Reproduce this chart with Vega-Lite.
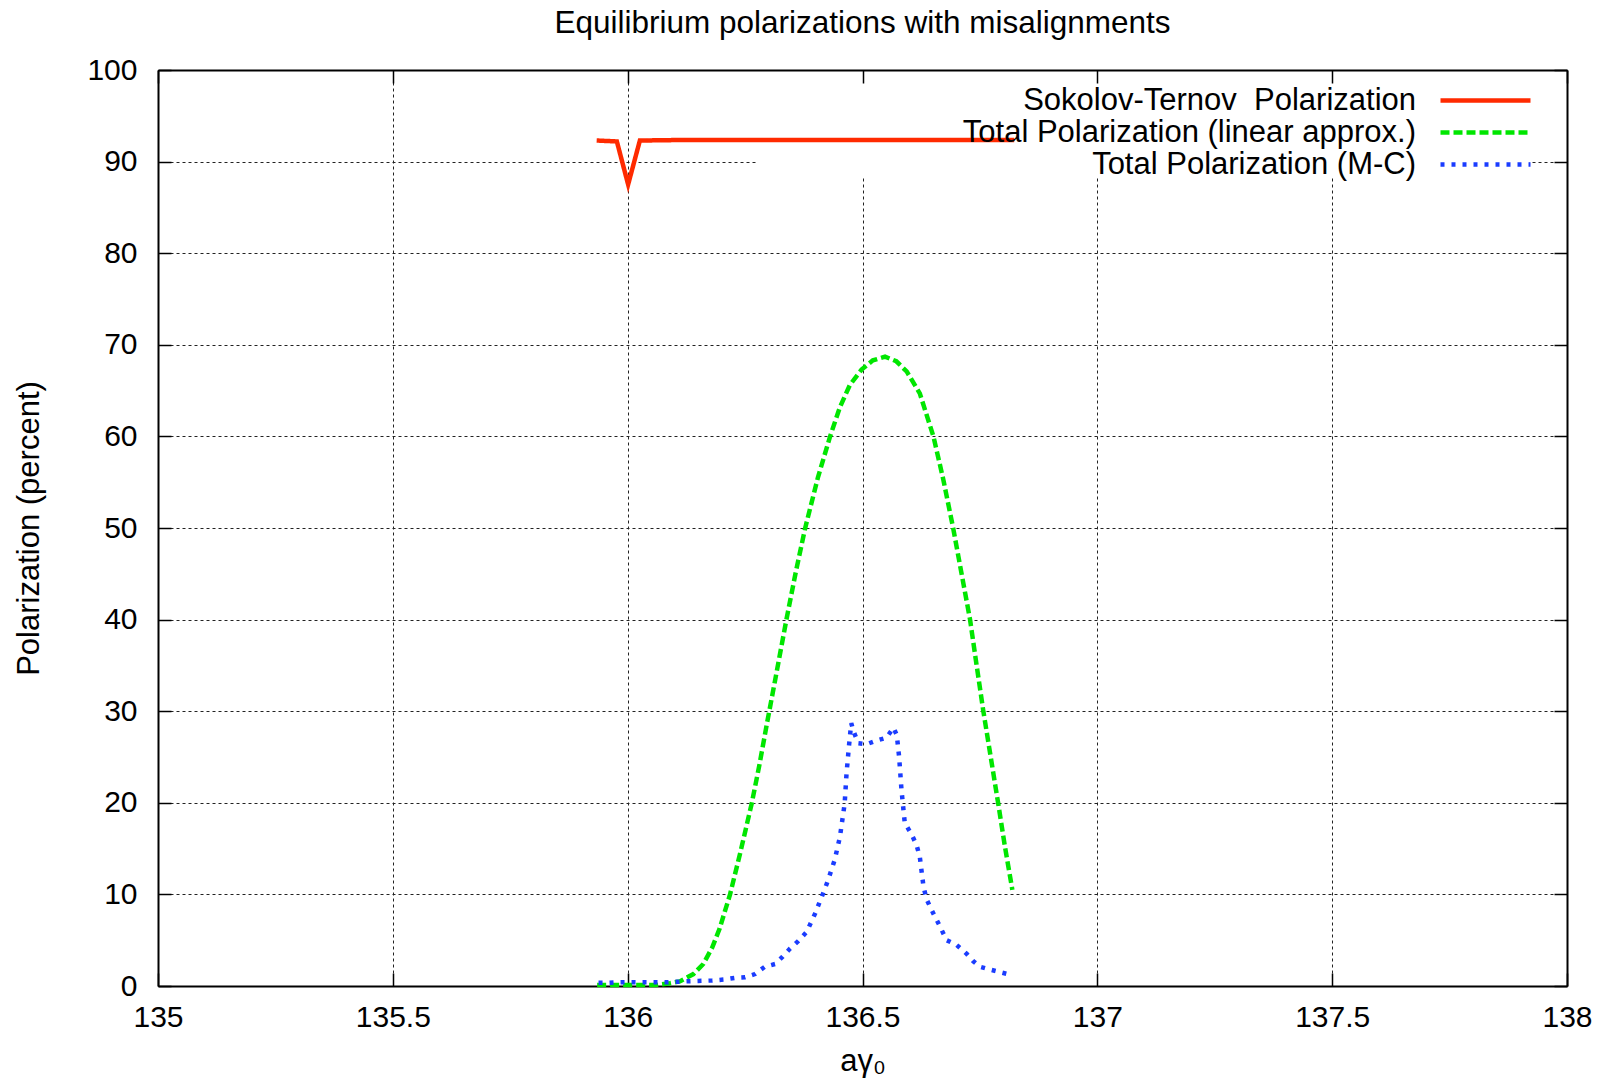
{
  "$schema": "https://vega.github.io/schema/vega-lite/v6.json",
  "width": 1409,
  "height": 916,
  "autosize": {"type": "none"},
  "padding": {"left": 158, "top": 70, "right": 48, "bottom": 99},
  "background": "white",
  "title": {"text": "Equilibrium polarizations with misalignments", "fontSize": 31.5, "font": "Liberation Sans", "fontWeight": "normal", "color": "black", "anchor": "middle", "baseline": "alphabetic", "offset": -9},
  "config": {
    "view": {"stroke": null},
    "axis": {"labelFont": "Liberation Sans", "titleFont": "Liberation Sans", "labelColor": "black", "titleColor": "black", "titleFontWeight": "normal", "labelFontSize": 30, "titleFontSize": 31, "domainColor": "black", "domainWidth": 2, "tickColor": "black", "tickWidth": 1.5, "gridColor": "#222222", "gridWidth": 1, "gridDash": [3, 3], "gridOpacity": 1}
  },
  "layer": [
    {
      "data": {"values": [{}]},
      "mark": {"type": "rect", "fill": "white"},
      "encoding": {
        "x": {"datum": 136.275, "type": "quantitative", "scale": {"domain": [135, 138], "nice": false, "zero": false},
          "axis": {"orient": "bottom", "values": [135, 135.5, 136, 136.5, 137, 137.5, 138], "labelExpr": "'' + datum.value", "grid": true, "tickSize": -13, "labelPadding": 29, "title": "aγ₀", "titlePadding": 38, "titleBaseline": "alphabetic", "labelFlush": false, "zindex": 0}},
        "x2": {"datum": 137.92},
        "y": {"datum": 88.2, "type": "quantitative", "scale": {"domain": [0, 100], "nice": false, "zero": false},
          "axis": {"orient": "left", "values": [0, 10, 20, 30, 40, 50, 60, 70, 80, 90, 100], "grid": true, "tickSize": -13, "labelPadding": 34, "title": "Polarization (percent)", "titlePadding": 41, "labelFlush": false, "zindex": 0}},
        "y2": {"datum": 100}
      }
    },
    {
      "data": {"values": [
        {"s": "Sokolov-Ternov\u00a0 Polarization", "x": 135.934, "y": 92.3},
        {"s": "Sokolov-Ternov\u00a0 Polarization", "x": 135.977, "y": 92.2},
        {"s": "Sokolov-Ternov\u00a0 Polarization", "x": 136.001, "y": 87.5},
        {"s": "Sokolov-Ternov\u00a0 Polarization", "x": 136.026, "y": 92.3},
        {"s": "Sokolov-Ternov\u00a0 Polarization", "x": 136.1, "y": 92.35},
        {"s": "Sokolov-Ternov\u00a0 Polarization", "x": 136.3, "y": 92.35},
        {"s": "Sokolov-Ternov\u00a0 Polarization", "x": 136.5, "y": 92.35},
        {"s": "Sokolov-Ternov\u00a0 Polarization", "x": 136.7, "y": 92.35},
        {"s": "Sokolov-Ternov\u00a0 Polarization", "x": 136.823, "y": 92.35},
        {"s": "Total Polarization (linear approx.)", "x": 135.935, "y": 0.1},
        {"s": "Total Polarization (linear approx.)", "x": 136.0, "y": 0.1},
        {"s": "Total Polarization (linear approx.)", "x": 136.06, "y": 0.1},
        {"s": "Total Polarization (linear approx.)", "x": 136.09, "y": 0.3},
        {"s": "Total Polarization (linear approx.)", "x": 136.111, "y": 0.5},
        {"s": "Total Polarization (linear approx.)", "x": 136.14, "y": 1.3},
        {"s": "Total Polarization (linear approx.)", "x": 136.161, "y": 2.4},
        {"s": "Total Polarization (linear approx.)", "x": 136.18, "y": 4.2},
        {"s": "Total Polarization (linear approx.)", "x": 136.196, "y": 6.3},
        {"s": "Total Polarization (linear approx.)", "x": 136.218, "y": 10.0},
        {"s": "Total Polarization (linear approx.)", "x": 136.24, "y": 14.6},
        {"s": "Total Polarization (linear approx.)", "x": 136.264, "y": 19.9},
        {"s": "Total Polarization (linear approx.)", "x": 136.28, "y": 24.0},
        {"s": "Total Polarization (linear approx.)", "x": 136.296, "y": 28.5},
        {"s": "Total Polarization (linear approx.)", "x": 136.314, "y": 33.4},
        {"s": "Total Polarization (linear approx.)", "x": 136.338, "y": 40.0},
        {"s": "Total Polarization (linear approx.)", "x": 136.358, "y": 45.2},
        {"s": "Total Polarization (linear approx.)", "x": 136.378, "y": 50.0},
        {"s": "Total Polarization (linear approx.)", "x": 136.405, "y": 55.5},
        {"s": "Total Polarization (linear approx.)", "x": 136.431, "y": 60.0},
        {"s": "Total Polarization (linear approx.)", "x": 136.452, "y": 63.2},
        {"s": "Total Polarization (linear approx.)", "x": 136.473, "y": 65.6},
        {"s": "Total Polarization (linear approx.)", "x": 136.498, "y": 67.3},
        {"s": "Total Polarization (linear approx.)", "x": 136.522, "y": 68.3},
        {"s": "Total Polarization (linear approx.)", "x": 136.548, "y": 68.7},
        {"s": "Total Polarization (linear approx.)", "x": 136.572, "y": 68.2},
        {"s": "Total Polarization (linear approx.)", "x": 136.594, "y": 67.1},
        {"s": "Total Polarization (linear approx.)", "x": 136.622, "y": 64.7},
        {"s": "Total Polarization (linear approx.)", "x": 136.651, "y": 60.0},
        {"s": "Total Polarization (linear approx.)", "x": 136.672, "y": 55.3},
        {"s": "Total Polarization (linear approx.)", "x": 136.693, "y": 50.0},
        {"s": "Total Polarization (linear approx.)", "x": 136.711, "y": 45.0},
        {"s": "Total Polarization (linear approx.)", "x": 136.729, "y": 40.0},
        {"s": "Total Polarization (linear approx.)", "x": 136.743, "y": 35.0},
        {"s": "Total Polarization (linear approx.)", "x": 136.757, "y": 30.1},
        {"s": "Total Polarization (linear approx.)", "x": 136.773, "y": 25.0},
        {"s": "Total Polarization (linear approx.)", "x": 136.789, "y": 19.9},
        {"s": "Total Polarization (linear approx.)", "x": 136.803, "y": 15.3},
        {"s": "Total Polarization (linear approx.)", "x": 136.819, "y": 10.5},
        {"s": "Total Polarization (M-C)", "x": 135.938, "y": 0.35},
        {"s": "Total Polarization (M-C)", "x": 135.96, "y": 0.35},
        {"s": "Total Polarization (M-C)", "x": 135.98, "y": 0.4},
        {"s": "Total Polarization (M-C)", "x": 136.0, "y": 0.4},
        {"s": "Total Polarization (M-C)", "x": 136.02, "y": 0.4},
        {"s": "Total Polarization (M-C)", "x": 136.04, "y": 0.4},
        {"s": "Total Polarization (M-C)", "x": 136.06, "y": 0.4},
        {"s": "Total Polarization (M-C)", "x": 136.08, "y": 0.4},
        {"s": "Total Polarization (M-C)", "x": 136.1, "y": 0.45},
        {"s": "Total Polarization (M-C)", "x": 136.12, "y": 0.5},
        {"s": "Total Polarization (M-C)", "x": 136.15, "y": 0.55},
        {"s": "Total Polarization (M-C)", "x": 136.18, "y": 0.6},
        {"s": "Total Polarization (M-C)", "x": 136.204, "y": 0.7},
        {"s": "Total Polarization (M-C)", "x": 136.23, "y": 0.9},
        {"s": "Total Polarization (M-C)", "x": 136.25, "y": 0.95},
        {"s": "Total Polarization (M-C)", "x": 136.271, "y": 1.3},
        {"s": "Total Polarization (M-C)", "x": 136.292, "y": 2.1},
        {"s": "Total Polarization (M-C)", "x": 136.314, "y": 2.4},
        {"s": "Total Polarization (M-C)", "x": 136.33, "y": 3.2},
        {"s": "Total Polarization (M-C)", "x": 136.346, "y": 4.1},
        {"s": "Total Polarization (M-C)", "x": 136.363, "y": 4.9},
        {"s": "Total Polarization (M-C)", "x": 136.381, "y": 5.9},
        {"s": "Total Polarization (M-C)", "x": 136.399, "y": 7.9},
        {"s": "Total Polarization (M-C)", "x": 136.416, "y": 10.1},
        {"s": "Total Polarization (M-C)", "x": 136.427, "y": 11.6},
        {"s": "Total Polarization (M-C)", "x": 136.441, "y": 13.8},
        {"s": "Total Polarization (M-C)", "x": 136.452, "y": 16.3},
        {"s": "Total Polarization (M-C)", "x": 136.462, "y": 19.9},
        {"s": "Total Polarization (M-C)", "x": 136.466, "y": 23.2},
        {"s": "Total Polarization (M-C)", "x": 136.471, "y": 26.1},
        {"s": "Total Polarization (M-C)", "x": 136.476, "y": 28.7},
        {"s": "Total Polarization (M-C)", "x": 136.481, "y": 27.8},
        {"s": "Total Polarization (M-C)", "x": 136.491, "y": 26.5},
        {"s": "Total Polarization (M-C)", "x": 136.509, "y": 26.4},
        {"s": "Total Polarization (M-C)", "x": 136.53, "y": 26.8},
        {"s": "Total Polarization (M-C)", "x": 136.551, "y": 27.1},
        {"s": "Total Polarization (M-C)", "x": 136.566, "y": 28.2},
        {"s": "Total Polarization (M-C)", "x": 136.573, "y": 27.4},
        {"s": "Total Polarization (M-C)", "x": 136.578, "y": 25.0},
        {"s": "Total Polarization (M-C)", "x": 136.583, "y": 21.4},
        {"s": "Total Polarization (M-C)", "x": 136.59, "y": 17.8},
        {"s": "Total Polarization (M-C)", "x": 136.605, "y": 16.5},
        {"s": "Total Polarization (M-C)", "x": 136.615, "y": 15.4},
        {"s": "Total Polarization (M-C)", "x": 136.622, "y": 14.1},
        {"s": "Total Polarization (M-C)", "x": 136.63, "y": 10.8},
        {"s": "Total Polarization (M-C)", "x": 136.637, "y": 9.4},
        {"s": "Total Polarization (M-C)", "x": 136.651, "y": 7.9},
        {"s": "Total Polarization (M-C)", "x": 136.665, "y": 6.5},
        {"s": "Total Polarization (M-C)", "x": 136.679, "y": 5.0},
        {"s": "Total Polarization (M-C)", "x": 136.7, "y": 4.5},
        {"s": "Total Polarization (M-C)", "x": 136.722, "y": 3.5},
        {"s": "Total Polarization (M-C)", "x": 136.736, "y": 2.7},
        {"s": "Total Polarization (M-C)", "x": 136.75, "y": 2.1},
        {"s": "Total Polarization (M-C)", "x": 136.771, "y": 1.8},
        {"s": "Total Polarization (M-C)", "x": 136.817, "y": 1.2}
      ]},
      "mark": {"type": "line", "strokeWidth": 4.5, "strokeCap": "butt", "strokeJoin": "miter"},
      "encoding": {
        "x": {"field": "x", "type": "quantitative", "scale": {"domain": [135, 138], "nice": false, "zero": false},
          "axis": {"orient": "top", "values": [135, 135.5, 136, 136.5, 137, 137.5, 138], "labels": false, "grid": false, "tickSize": -13, "title": null, "zindex": 1}},
        "y": {"field": "y", "type": "quantitative", "scale": {"domain": [0, 100], "nice": false, "zero": false},
          "axis": {"orient": "right", "values": [0, 10, 20, 30, 40, 50, 60, 70, 80, 90, 100], "labels": false, "grid": false, "tickSize": -13, "title": null, "zindex": 1}},
        "color": {"field": "s", "type": "nominal",
          "scale": {"domain": ["Sokolov-Ternov\u00a0 Polarization", "Total Polarization (linear approx.)", "Total Polarization (M-C)"], "range": ["#ff2a00", "#00e600", "#1a3cff"]},
          "legend": {"orient": "none", "legendX": 1260, "legendY": 15, "title": null, "labelAlign": "right", "labelFontSize": 31, "labelFont": "Liberation Sans", "labelColor": "black", "labelLimit": 0, "symbolType": "M-4.5,0H4.5", "symbolSize": 400, "symbolStrokeWidth": 4.5, "labelOffset": -85, "symbolOffset": 52, "padding": 0, "rowPadding": 0}},
        "strokeDash": {"field": "s", "type": "nominal",
          "scale": {"domain": ["Sokolov-Ternov\u00a0 Polarization", "Total Polarization (linear approx.)", "Total Polarization (M-C)"], "range": [[1, 0], [9, 4], [4, 7]]}}
      }
    }
  ],
  "resolve": {"axis": {"x": "independent", "y": "independent"}}
}
